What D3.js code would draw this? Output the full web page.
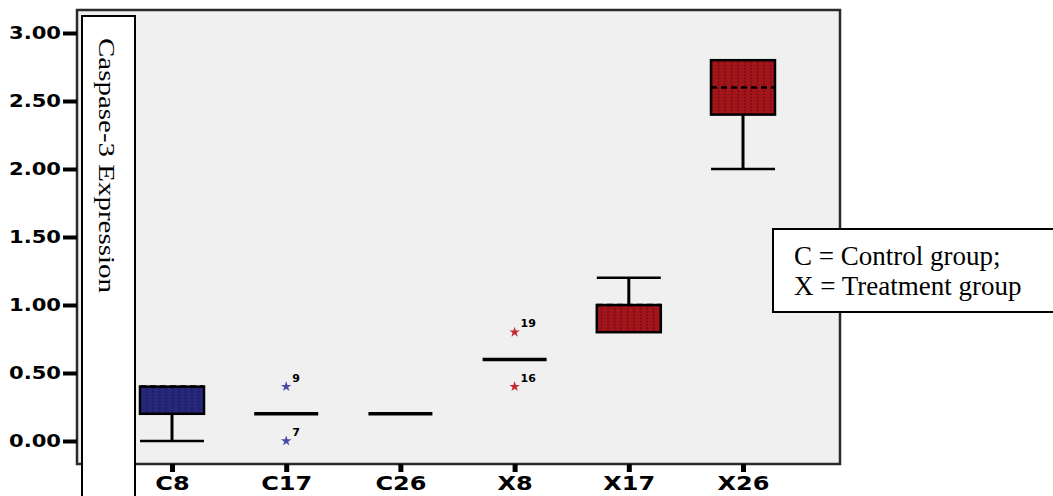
<!DOCTYPE html>
<html>
<head>
<meta charset="utf-8">
<script src="https://cdn.jsdelivr.net/npm/d3@7"></script>
<style>
  body { margin: 0; background: #fff; }
  svg { display: block; }
</style>
</head>
<body>
<div id="chart"></div>
<script>
// groups and box statistics
const groups = ["C8", "C17", "C26", "X8", "X17", "X26"];
const whiskerLow = [0.0, 0.2, 0.2, 0.6, 0.8, 2.0];
const q1Values = [0.2, 0.2, 0.2, 0.6, 0.8, 2.4];
const medianValues = [0.4, 0.2, 0.2, 0.6, 1.0, 2.6];
const q3Values = [0.4, 0.2, 0.2, 0.6, 1.0, 2.8];
const whiskerHigh = [0.4, 0.2, 0.2, 0.6, 1.2, 2.8];

// extreme values (stars) with case numbers
const outlierGroups = ["C17", "C17", "X8", "X8"];
const outlierValues = [0.4, 0.0, 0.8, 0.4];
const outlierLabels = ["9", "7", "19", "16"];

const yTicks = [0, 0.5, 1, 1.5, 2, 2.5, 3];
const yTitle = "Caspase-3 Expression";
const legendLines = ["C = Control group;", "X = Treatment group"];

const width = 1053, height = 496;
const panel = { left: 77, top: 10, right: 840, bottom: 464 };

const svg = d3.select("#chart")
  .append("svg")
  .attr("width", width)
  .attr("height", height);

const x = d3.scalePoint().domain(groups).range([172, 743]);
const y = d3.scaleLinear().domain([0, 3]).range([441, 33]);

// dotted fills like the SPSS boxes
const defs = svg.append("defs");
function dotPattern(id, fill, dot) {
  const p = defs.append("pattern")
    .attr("id", id)
    .attr("patternUnits", "userSpaceOnUse")
    .attr("width", 6.5)
    .attr("height", 3.2);
  p.append("rect").attr("width", 6.5).attr("height", 3.2).attr("fill", fill);
  p.append("rect").attr("x", 3).attr("y", 1).attr("width", 1.2).attr("height", 1.3).attr("fill", dot);
}
dotPattern("dots-blue", "#27287c", "#10103a");
dotPattern("dots-red", "#a3141b", "#4a0608");

const boxFill = g => g.startsWith("C") ? "url(#dots-blue)" : "url(#dots-red)";
const starColor = g => g.startsWith("C") ? "#4a4aa8" : "#c42a30";

// panel
svg.append("rect")
  .attr("x", panel.left)
  .attr("y", panel.top)
  .attr("width", panel.right - panel.left)
  .attr("height", panel.bottom - panel.top)
  .attr("fill", "#f0f0f0")
  .attr("stroke", "#2a2a2a")
  .attr("stroke-width", 2.5);

// the original picture is widened, so stretch text to a set factor
function stretch(sel, factor) {
  sel.each(function () {
    const w = this.getComputedTextLength();
    d3.select(this)
      .attr("textLength", w * factor)
      .attr("lengthAdjust", "spacingAndGlyphs");
  });
}

// y axis
const yAxis = svg.append("g")
  .attr("transform", `translate(${panel.left},0)`)
  .call(d3.axisLeft(y).tickValues(yTicks).tickFormat(d3.format(".2f")).tickSize(14).tickPadding(2));
yAxis.select(".domain").remove();
yAxis.selectAll(".tick line").attr("stroke", "#000").attr("stroke-width", 4);
yAxis.selectAll(".tick text")
  .attr("fill", "#000")
  .style("font-family", "'DejaVu Sans', sans-serif")
  .style("font-weight", "bold")
  .style("font-size", "17px")
  .call(stretch, 1.24);

// x axis
const xAxis = svg.append("g")
  .attr("transform", `translate(0,${panel.bottom})`)
  .call(d3.axisBottom(x).tickSize(8).tickPadding(4));
xAxis.select(".domain").remove();
xAxis.selectAll(".tick line").attr("stroke", "#000").attr("stroke-width", 5);
xAxis.selectAll(".tick text")
  .attr("fill", "#000")
  .style("font-family", "'DejaVu Sans', sans-serif")
  .style("font-weight", "bold")
  .style("font-size", "20px")
  .call(stretch, 1.2);

// boxes
const hw = 32;
const plot = svg.append("g");
groups.forEach((g, i) => {
  const cx = x(g);
  const lo = whiskerLow[i], q1 = q1Values[i], med = medianValues[i], q3 = q3Values[i], hi = whiskerHigh[i];
  const grp = plot.append("g");

  if (lo < q1) {
    grp.append("line").attr("x1", cx).attr("x2", cx).attr("y1", y(q1)).attr("y2", y(lo))
      .attr("stroke", "#000").attr("stroke-width", 3);
    grp.append("line").attr("x1", cx - hw).attr("x2", cx + hw).attr("y1", y(lo)).attr("y2", y(lo))
      .attr("stroke", "#000").attr("stroke-width", 2.5);
  }
  if (hi > q3) {
    grp.append("line").attr("x1", cx).attr("x2", cx).attr("y1", y(q3)).attr("y2", y(hi))
      .attr("stroke", "#000").attr("stroke-width", 3);
    grp.append("line").attr("x1", cx - hw).attr("x2", cx + hw).attr("y1", y(hi)).attr("y2", y(hi))
      .attr("stroke", "#000").attr("stroke-width", 2.5);
  }

  if (q3 > q1) {
    grp.append("rect")
      .attr("x", cx - hw)
      .attr("y", y(q3))
      .attr("width", hw * 2)
      .attr("height", y(q1) - y(q3))
      .attr("fill", boxFill(g))
      .attr("stroke", "#000")
      .attr("stroke-width", 2.5);
    grp.append("line").attr("x1", cx - hw).attr("x2", cx + hw).attr("y1", y(med)).attr("y2", y(med))
      .attr("stroke", "#000").attr("stroke-width", 2.5).attr("stroke-dasharray", "6,4");
  } else {
    grp.append("line").attr("x1", cx - hw).attr("x2", cx + hw).attr("y1", y(med)).attr("y2", y(med))
      .attr("stroke", "#000").attr("stroke-width", 3.5);
  }
});

// extreme values
const star = d3.symbol().type(d3.symbolStar).size(34);
outlierGroups.forEach((g, i) => {
  const cx = x(g), cy = y(outlierValues[i]);
  plot.append("path")
    .attr("d", star())
    .attr("transform", `translate(${cx},${cy})`)
    .attr("fill", starColor(g));
  plot.append("text")
    .attr("x", cx + 6)
    .attr("y", cy - 5)
    .style("font-family", "'DejaVu Sans', sans-serif")
    .style("font-weight", "bold")
    .style("font-size", "11px")
    .text(outlierLabels[i]);
});

// y title box
svg.append("rect")
  .attr("x", 82)
  .attr("y", 16)
  .attr("width", 53)
  .attr("height", 500)
  .attr("fill", "#fff")
  .attr("stroke", "#000")
  .attr("stroke-width", 2);
svg.append("text")
  .attr("transform", "translate(99,38) rotate(90)")
  .attr("textLength", 255)
  .attr("lengthAdjust", "spacingAndGlyphs")
  .style("font-family", "'Liberation Serif', 'DejaVu Serif', serif")
  .style("font-size", "24px")
  .text(yTitle);

// legend note
svg.append("rect")
  .attr("x", 773)
  .attr("y", 229)
  .attr("width", 300)
  .attr("height", 83)
  .attr("fill", "#fff")
  .attr("stroke", "#000")
  .attr("stroke-width", 2);
svg.selectAll(".note")
  .data(legendLines)
  .enter()
  .append("text")
  .attr("class", "note")
  .attr("x", 794)
  .attr("y", (d, i) => 265 + i * 30)
  .style("font-family", "'Liberation Serif', 'DejaVu Serif', serif")
  .style("font-size", "27px")
  .text(d => d);
</script>
</body>
</html>
